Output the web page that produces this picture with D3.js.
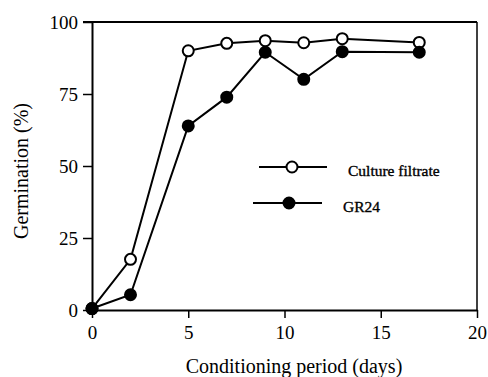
<!DOCTYPE html>
<html>
<head>
<script src="https://cdn.jsdelivr.net/npm/d3@7"></script>
<style>
	body { margin: 0; background: #fff; }
	svg text { font-family: "Liberation Serif", "Times New Roman", Times, serif; }
</style>
</head>
<body>
<div id="chart"></div>
<script>
	// data
	const days = [0, 2, 5, 7, 9, 11, 13, 17];
	const filtrate = [0.5, 17.6, 90, 92.6, 93.5, 92.8, 94.2, 92.9];
	const gr24 = [0.5, 5.3, 63.9, 73.9, 89.5, 80.1, 89.7, 89.5];
	const xTicks = [0, 5, 10, 15, 20];
	const yTicks = [0, 25, 50, 75, 100];
	const seriesNames = ["Culture filtrate", "GR24"];

	const width = 488, height = 377;
	const mLeft = 92, mRight = 477, mTop = 22, mBottom = 310;
	const serif = "'Liberation Serif', 'Times New Roman', Times, serif";

	const x = d3.scaleLinear().domain([0, 20]).range([mLeft, mRight]);
	const y = d3.scaleLinear().domain([0, 100]).range([mBottom, mTop]);

	const svg = d3.select("#chart").append("svg")
		.attr("width", width).attr("height", height);

	// frame
	svg.append("line").attr("x1", mRight).attr("x2", mRight).attr("y1", mTop).attr("y2", mBottom)
		.attr("stroke", "#000").attr("stroke-width", 1.5);
	svg.append("line").attr("x1", mLeft - 9).attr("x2", mRight).attr("y1", mTop).attr("y2", mTop)
		.attr("stroke", "#000").attr("stroke-width", 2);

	const xAxis = d3.axisBottom(x).tickValues(xTicks).tickSize(8).tickSizeOuter(0);
	const yAxis = d3.axisLeft(y).tickValues(yTicks).tickSize(9).tickSizeOuter(0).tickPadding(5);

	const gx = svg.append("g").attr("transform", `translate(0,${mBottom})`).call(xAxis);
	const gy = svg.append("g").attr("transform", `translate(${mLeft},0)`).call(yAxis);

	[gx, gy].forEach(g => {
		g.attr("font-family", serif);
		g.select(".domain").attr("stroke-width", 2);
		g.selectAll(".tick line").attr("stroke-width", 1.5);
		g.selectAll(".tick text").attr("font-size", 19).attr("fill", "#000");
	});
	gx.selectAll(".tick text").attr("y", 29).attr("dy", 0);

	svg.append("text").attr("x", 294).attr("y", 373).attr("text-anchor", "middle")
		.attr("font-family", serif).attr("font-size", 20).text("Conditioning period (days)");
	svg.append("text").attr("transform", "translate(28,171) rotate(-90)").attr("text-anchor", "middle")
		.attr("font-family", serif).attr("font-size", 20).text("Germination (%)");

	const line = d3.line().x(d => x(d[0])).y(d => y(d[1]));
	const series = [
		{ name: seriesNames[0], values: days.map((d, i) => [d, filtrate[i]]), fill: "#fff" },
		{ name: seriesNames[1], values: days.map((d, i) => [d, gr24[i]]), fill: "#000" }
	];

	series.forEach(s => {
		svg.append("path").datum(s.values).attr("d", line)
			.attr("fill", "none").attr("stroke", "#000").attr("stroke-width", 2);
	});
	// filled GR24 markers end up on top
	series.forEach(s => {
		svg.append("g").selectAll("circle").data(s.values).enter().append("circle")
			.attr("cx", d => x(d[0])).attr("cy", d => y(d[1])).attr("r", 5.5)
			.attr("fill", s.fill).attr("stroke", "#000").attr("stroke-width", 2);
	});

	// legend
	const legend = [
		{ s: series[0], x1: 259, x2: 327, cx: 292, y: 167, tx: 348 },
		{ s: series[1], x1: 253, x2: 322, cx: 289, y: 203, tx: 343 }
	];
	legend.forEach(l => {
		svg.append("line").attr("x1", l.x1).attr("x2", l.x2).attr("y1", l.y).attr("y2", l.y)
			.attr("stroke", "#000").attr("stroke-width", 2);
		svg.append("circle").attr("cx", l.cx).attr("cy", l.y).attr("r", 5.5)
			.attr("fill", l.s.fill).attr("stroke", "#000").attr("stroke-width", 2);
		svg.append("text").attr("x", l.tx).attr("y", l.y + 8.5).attr("font-size", 15.5)
			.attr("font-family", serif).attr("stroke", "#000").attr("stroke-width", 0.35)
			.text(l.s.name);
	});
</script>
</body>
</html>
